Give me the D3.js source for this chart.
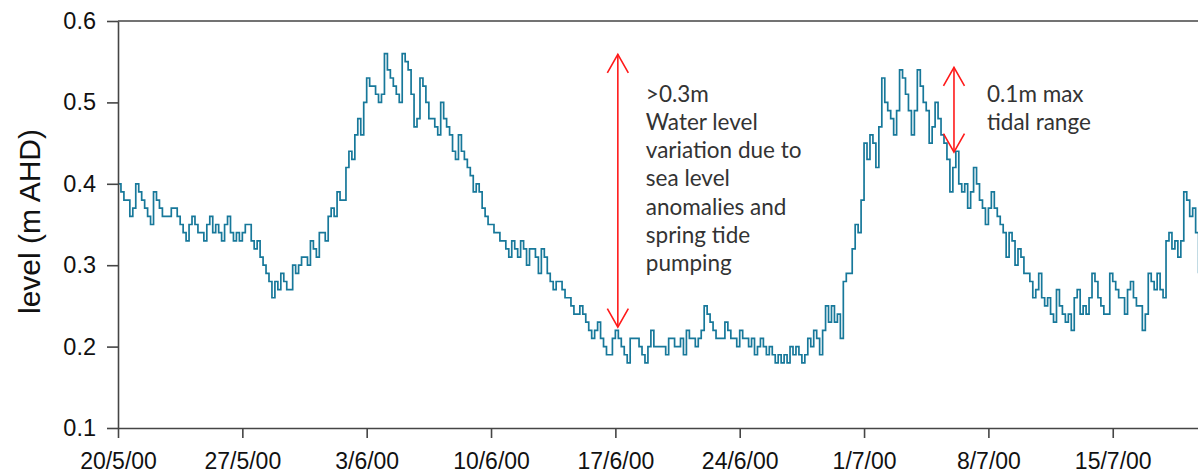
<!DOCTYPE html>
<html>
<head>
<meta charset="utf-8">
<script src="https://cdn.jsdelivr.net/npm/d3@7"></script>
<style>
  html, body { margin: 0; padding: 0; background: #fff; }
  svg { display: block; }
  .tick text { font-family: "Liberation Sans", Arial, sans-serif; fill: #111; }
</style>
</head>
<body>
<svg id="chart" width="1198" height="476"></svg>
<script>
// Water level record, 4-hourly readings starting 20 May 2000 (m AHD)
const startDate = new Date(2000, 4, 20);
const endDate = new Date(2000, 6, 19, 19, 12);
const stepHours = 4;

const levels = [
  0.40,0.39,0.38,0.38,0.36,0.37,  0.40,0.39,0.38,0.37,0.36,0.35,
  0.39,0.38,0.37,0.36,0.36,0.36,  0.37,0.37,0.36,0.35,0.34,0.33,
  0.35,0.36,0.35,0.34,0.34,0.33,  0.35,0.36,0.34,0.35,0.34,0.33,
  0.35,0.36,0.34,0.33,0.34,0.33,  0.34,0.35,0.35,0.33,0.32,0.33,
  0.31,0.30,0.29,0.28,0.26,0.28,  0.27,0.29,0.28,0.27,0.27,0.30,
  0.29,0.30,0.31,0.31,0.30,0.33,  0.32,0.31,0.34,0.34,0.33,0.36,
  0.37,0.36,0.39,0.38,0.38,0.42,  0.44,0.43,0.46,0.48,0.46,0.50,
  0.53,0.52,0.52,0.51,0.50,0.51,  0.56,0.54,0.53,0.52,0.51,0.50,
  0.56,0.55,0.54,0.51,0.47,0.48,  0.53,0.52,0.50,0.48,0.48,0.47,
  0.46,0.50,0.48,0.47,0.46,0.44,  0.43,0.46,0.44,0.43,0.42,0.41,
  0.39,0.40,0.39,0.37,0.36,0.35,  0.35,0.34,0.34,0.33,0.33,0.32,
  0.31,0.33,0.32,0.31,0.33,0.32,  0.30,0.32,0.32,0.31,0.29,0.32,
  0.31,0.29,0.28,0.27,0.28,0.28,  0.27,0.26,0.26,0.25,0.24,0.24,
  0.25,0.24,0.23,0.22,0.21,0.22,  0.23,0.21,0.20,0.19,0.19,0.21,
  0.22,0.21,0.20,0.19,0.18,0.21,  0.21,0.21,0.20,0.19,0.18,0.20,
  0.22,0.20,0.20,0.20,0.20,0.19,  0.21,0.21,0.20,0.20,0.21,0.19,
  0.22,0.21,0.21,0.20,0.21,0.22,  0.25,0.24,0.23,0.22,0.21,0.21,
  0.21,0.23,0.22,0.21,0.21,0.20,  0.22,0.21,0.21,0.20,0.21,0.19,
  0.20,0.21,0.20,0.19,0.20,0.19,  0.18,0.19,0.18,0.19,0.18,0.20,
  0.19,0.20,0.19,0.18,0.19,0.21,  0.20,0.22,0.21,0.19,0.22,0.25,
  0.23,0.25,0.23,0.24,0.21,0.28,  0.29,0.29,0.32,0.35,0.34,0.38,
  0.45,0.43,0.46,0.45,0.42,0.47,  0.53,0.50,0.49,0.48,0.46,0.49,
  0.54,0.53,0.51,0.49,0.46,0.49,  0.54,0.52,0.50,0.49,0.45,0.47,
  0.50,0.48,0.46,0.45,0.43,0.39,  0.42,0.44,0.40,0.39,0.40,0.37,
  0.39,0.42,0.40,0.38,0.37,0.35,  0.37,0.39,0.37,0.36,0.35,0.34,
  0.31,0.34,0.33,0.30,0.32,0.31,  0.29,0.29,0.28,0.26,0.27,0.29,
  0.26,0.25,0.26,0.24,0.23,0.27,  0.25,0.24,0.23,0.24,0.22,0.26,
  0.27,0.24,0.25,0.24,0.26,0.29,  0.28,0.26,0.25,0.24,0.24,0.29,
  0.28,0.27,0.26,0.26,0.24,0.27,  0.28,0.26,0.25,0.25,0.22,0.24,
  0.29,0.28,0.27,0.29,0.27,0.26,  0.33,0.34,0.32,0.33,0.31,0.33,
  0.39,0.38,0.36,0.37,0.34,0.29
];

const tickDates = [
  new Date(2000, 4, 20), new Date(2000, 4, 27), new Date(2000, 5, 3),
  new Date(2000, 5, 10), new Date(2000, 5, 17), new Date(2000, 5, 24),
  new Date(2000, 6, 1),  new Date(2000, 6, 8),  new Date(2000, 6, 15)
];
const tickLabels = ["20/5/00", "27/5/00", "3/6/00", "10/6/00", "17/6/00",
                    "24/6/00", "1/7/00", "8/7/00", "15/7/00"];
const levelTicks = [0.1, 0.2, 0.3, 0.4, 0.5, 0.6];

// Annotated ranges: seasonal swing and daily tidal range
const rangeDates = [new Date(2000, 5, 17, 3, 20), new Date(2000, 6, 6, 1, 30)];
const rangeLow = [0.224, 0.439];
const rangeHigh = [0.559, 0.543];
const rangeNotes = [
  [">0.3m", "Water level", "variation due to", "sea level", "anomalies and", "spring tide", "pumping"],
  ["0.1m max", "tidal range"]
];

const series = levels.map((v, i) => ({
  t: new Date(startDate.getTime() + i * stepHours * 3600e3),
  v
}));

const svg = d3.select("#chart");
const x = d3.scaleTime().domain([startDate, endDate]).range([118, 1198]);
const y = d3.scaleLinear().domain([0.1, 0.6]).range([428, 21]);

const axisColor = "#454545";

svg.append("defs").append("clipPath").attr("id", "plot")
  .append("rect").attr("x", 118).attr("y", 0).attr("width", 1080).attr("height", 440);

// frame top edge
svg.append("line")
  .attr("x1", 118).attr("x2", 1198).attr("y1", y(0.6)).attr("y2", y(0.6))
  .attr("stroke", axisColor).attr("stroke-width", 1.6);

// level trace
svg.append("path")
  .datum(series)
  .attr("clip-path", "url(#plot)")
  .attr("fill", "none")
  .attr("stroke", "#17789a")
  .attr("stroke-width", 1.7)
  .attr("d", d3.line().curve(d3.curveStepAfter).x(d => x(d.t)).y(d => y(d.v)));

// y axis
const yAxis = svg.append("g")
  .attr("transform", `translate(${x.range()[0]},0)`)
  .call(d3.axisLeft(y).tickValues(levelTicks).tickFormat(d3.format(".1f"))
    .tickSize(11).tickSizeOuter(0).tickPadding(11));
yAxis.selectAll("text").style("font-size", "23.5px");

// x axis
const xAxis = svg.append("g")
  .attr("transform", `translate(0,${y(0.1)})`)
  .call(d3.axisBottom(x).tickValues(tickDates).tickFormat((d, i) => tickLabels[i])
    .tickSize(10).tickSizeOuter(0).tickPadding(15));
xAxis.selectAll("text").style("font-size", "23px");

[yAxis, xAxis].forEach(g => {
  g.selectAll("path, line").attr("stroke", axisColor).attr("stroke-width", 1.6);
});

// axis title
svg.append("text")
  .attr("transform", `translate(40,${(y(0.6) + y(0.1)) / 2 - 3}) rotate(-90)`)
  .attr("text-anchor", "middle")
  .style("font-family", "'Liberation Sans', Arial, sans-serif")
  .style("font-size", "30px")
  .attr("fill", "#111")
  .text("level (m AHD)");

// range arrows with notes
const noteOffsets = [28, 33];
rangeDates.forEach((d, i) => {
  const ax = x(d), y0 = y(rangeLow[i]), y1 = y(rangeHigh[i]);
  const g = svg.append("g").attr("stroke", "#ff1a1a").attr("stroke-width", 1.6).attr("fill", "none");
  g.append("line").attr("x1", ax).attr("x2", ax).attr("y1", y0).attr("y2", y1);
  g.append("path").attr("d", `M${ax - 10.5},${y1 + 18.5}L${ax},${y1}L${ax + 10.5},${y1 + 18.5}`);
  g.append("path").attr("d", `M${ax - 10.5},${y0 - 18.5}L${ax},${y0}L${ax + 10.5},${y0 - 18.5}`);

  const t = svg.append("text")
    .style("font-family", "Lato, 'Open Sans', sans-serif")
    .style("font-size", "22.5px")
    .attr("fill", "#333");
  rangeNotes[i].forEach((line, j) => {
    t.append("tspan").attr("x", ax + noteOffsets[i]).attr("y", 101.5 + j * 28.3).text(line);
  });
});
</script>
</body>
</html>
